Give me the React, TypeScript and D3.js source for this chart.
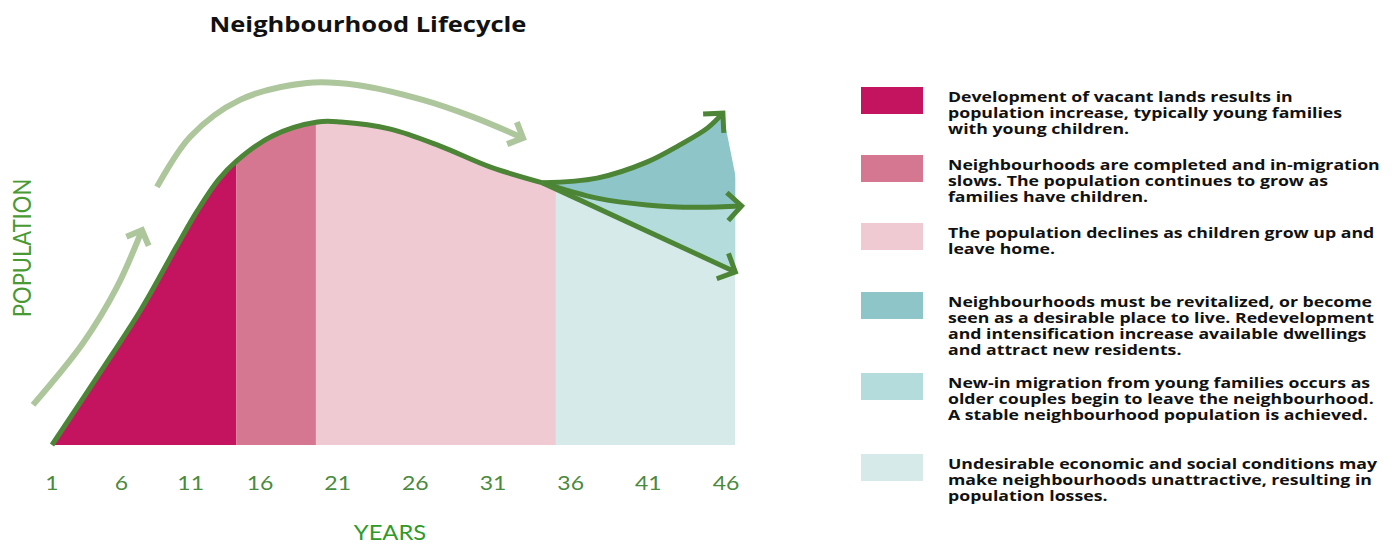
import React from "react";
import * as d3 from "d3";

// x axis tick labels (years)
const tickYears = [1, 6, 11, 16, 21, 26, 31, 36, 41, 46];

// main population curve (arbitrary population units)
const mainYears = [1, 4.5, 7.4, 10, 11.5, 13, 14.3, 16.8, 19.7, 21.2, 24.4, 27.6, 30.8, 34.2];
const mainValues = [0, 21.5, 39.7, 58.5, 69, 78, 83.5, 90.9, 95, 95, 92.9, 87.9, 81.8, 77.1];

// three possible futures after the junction
const growYears = [34.2, 37.7, 40.9, 43.0, 44.8, 45.8];
const growValues = [77.1, 78.5, 83.2, 88.2, 93.2, 97.6];
const stableYears = [34.2, 37.7, 40.9, 44.1, 47.0];
const stableValues = [77.1, 72.6, 70.6, 69.9, 70.3];
const declineYears = [34.2, 46.6];
const declineValues = [77.1, 50.9];

// decorative light arrows
const riseYears = [-0.37, 3.24, 5.69, 7.49];
const riseValues = [11.8, 30, 46.5, 63.2];
const arcYears = [8.57, 10.95, 14.56, 19.03, 22.24, 26.48, 29.7, 32.93];
const arcValues = [75.9, 90.6, 101.5, 106.5, 105.9, 101.5, 96.5, 90.3];

// phase bands along the x axis
const bandEdges = [1, 14.3, 19.6, 35.05, 46.6];
const bandColors = ["#c41460", "#d67791", "#f0cad2", "#d6eae9"];

const legendColors = ["#c41460", "#d67791", "#f0cad2", "#8dc5c9", "#b5dcdc", "#d6eae9"];
const legendLines = [
  ["Development of vacant lands results in", "population increase, typically young families", "with young children."],
  ["Neighbourhoods are completed and in-migration", "slows. The population continues to grow as", "families have children."],
  ["The population declines as children grow up and", "leave home."],
  ["Neighbourhoods must be revitalized, or become", "seen as a desirable place to live. Redevelopment", "and intensification increase available dwellings", "and attract new residents."],
  ["New-in migration from young families occurs as", "older couples begin to leave the neighbourhood.", "A stable neighbourhood population is achieved."],
  ["Undesirable economic and social conditions may", "make neighbourhoods unattractive, resulting in", "population losses."]
];
const legendTops = [87, 155, 223, 292, 373, 454];

const dark = "#4b8535";
const light = "#adc69c";

const zip = (xs: number[], ys: number[]) => xs.map((x, i) => [x, ys[i]] as [number, number]);

const App = () => {
  const x = d3.scaleLinear().domain([1, 16, 46]).range([52, 260, 726]);
  const y = d3.scaleLinear().domain([0, 110]).range([445, 71]);

  const main = zip(mainYears, mainValues);
  const grow = zip(growYears, growValues);
  const stable = zip(stableYears, stableValues);
  const decline = zip(declineYears, declineValues);

  const curve = d3.curveCatmullRom.alpha(0.5);
  const line = d3.line().x(d => x(d[0])).y(d => y(d[1])).curve(curve);
  const areaMain = d3.area().x(d => x(d[0])).y0(y(0)).y1(d => y(d[1])).curve(curve);
  const areaLin = d3.area().x(d => x(d[0])).y0(y(0)).y1(d => y(d[1]));

  const between = (a: [number, number][], b: [number, number][]) =>
    line(a) + "L" + (line([...b].reverse()) as string).slice(1) + "Z";

  return (
    <svg width={1400} height={545} style={{ position: "absolute", left: 0, top: 0 }}>
      <defs>
        <clipPath id="under">
          <path d={areaMain(main) as string} />
          <path d={areaLin(decline) as string} />
        </clipPath>
        <clipPath id="right">
          <rect x={0} y={0} width={x(bandEdges[4])} height={545} />
        </clipPath>
        <marker id="headDark" viewBox="-18 -18 36 36" markerWidth={36} markerHeight={36}
          markerUnits="userSpaceOnUse" orient="auto" refX={0} refY={0}>
          <path d="M-14,-14L0,0L-14,14" fill="none" stroke={dark} strokeWidth={5} />
        </marker>
        <marker id="headLight" viewBox="-18 -18 36 36" markerWidth={36} markerHeight={36}
          markerUnits="userSpaceOnUse" orient="auto" refX={0} refY={0}>
          <path d="M-12,-12L0,0L-12,12" fill="none" stroke={light} strokeWidth={6} />
        </marker>
      </defs>

      <text transform="translate(368,32) scale(1.16,1)" textAnchor="middle" fontFamily="Open Sans" fontWeight={700} fontSize={22} fill="#111">
        Neighbourhood Lifecycle
      </text>

      <g clipPath="url(#under)">
        {bandColors.map((c, i) => (
          <rect key={i} x={x(bandEdges[i])} y={0} width={x(bandEdges[i + 1]) - x(bandEdges[i])} height={y(0)} fill={c} />
        ))}
      </g>
      <g clipPath="url(#right)">
        <path d={between(grow, stable)} fill="#8dc5c9" />
        <path d={between(stable, decline)} fill="#b5dcdc" />
      </g>

      <path d={line(zip(riseYears, riseValues)) as string} fill="none" stroke={light} strokeWidth={6} markerEnd="url(#headLight)" />
      <path d={line(zip(arcYears, arcValues)) as string} fill="none" stroke={light} strokeWidth={6} markerEnd="url(#headLight)" />

      <path d={line(main) as string} fill="none" stroke={dark} strokeWidth={5} />
      <path d={line(grow) as string} fill="none" stroke={dark} strokeWidth={5} markerEnd="url(#headDark)" />
      <path d={line(stable) as string} fill="none" stroke={dark} strokeWidth={5} markerEnd="url(#headDark)" />
      <path d={line(decline) as string} fill="none" stroke={dark} strokeWidth={5} markerEnd="url(#headDark)" />

      {tickYears.map(t => (
        <text key={t} transform={`translate(${x(t)},490) scale(1.15,1)`} textAnchor="middle" fontFamily="Lato" fontSize={20} fill="#4a8a3c">
          {t}
        </text>
      ))}
      <text transform="translate(390,540) scale(1.08,1)" textAnchor="middle" fontFamily="Lato" fontSize={22} fill="#2f9a2a">YEARS</text>
      <text transform="translate(31,248) scale(1.18,1) rotate(-90)" textAnchor="middle" fontFamily="Lato" fontSize={22} fill="#4a9a34">
        POPULATION
      </text>

      {legendLines.map((lines, i) => (
        <g key={i}>
          <rect x={861} y={legendTops[i]} width={62} height={27} fill={legendColors[i]} />
          <text transform={`translate(948,${legendTops[i] + 15}) scale(1.18,1)`} fontFamily="Open Sans" fontWeight={700} fontSize={15} fill="#111">
            {lines.map((l, j) => (
              <tspan key={j} x={0} y={j * 16}>{l}</tspan>
            ))}
          </text>
        </g>
      ))}
    </svg>
  );
};

export default App;
